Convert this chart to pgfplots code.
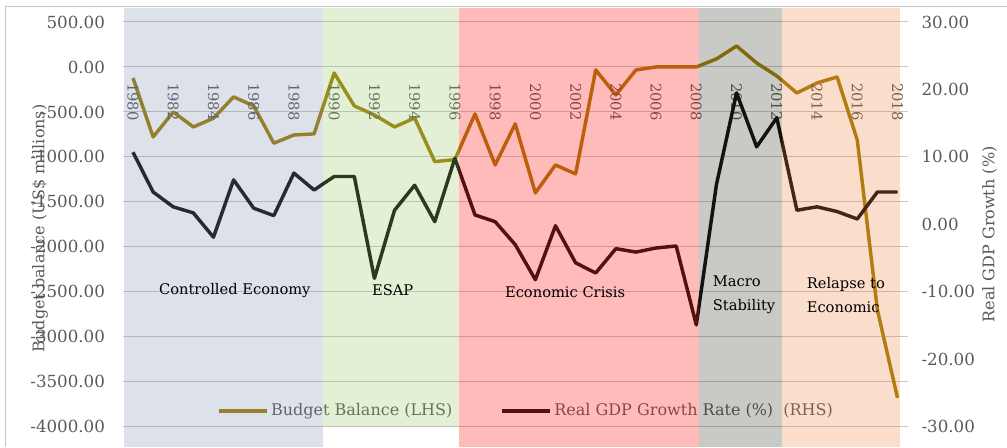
\documentclass[border=0pt]{standalone}
\usepackage{fontspec}
\setmainfont{DejaVu Serif}
\usepackage{pgfplots}
\usepackage{pgfplotstable}
\pgfplotsset{compat=1.18}

\definecolor{budget}{RGB}{160,126,8}
\definecolor{gdp}{RGB}{12,12,12}
\definecolor{txt}{RGB}{89,89,89}
\definecolor{gridc}{RGB}{200,200,200}
\definecolor{ovblue}{RGB}{119,135,171}
\definecolor{ovgreen}{RGB}{143,195,87}
\definecolor{ovpink}{RGB}{255,25,25}
\definecolor{ovgrey}{RGB}{35,47,23}
\definecolor{ovpeach}{RGB}{239,119,47}

\pgfplotstableread{
year budget gdp
1980 -122 10.7
1981 -778 4.8
1982 -500 2.6
1983 -667 1.7
1984 -570 -1.9
1985 -333 6.6
1986 -433 2.4
1987 -847 1.3
1988 -756 7.6
1989 -744 5.1
1990 -67 7.1
1991 -433 7.1
1992 -533 -8.0
1993 -667 2.1
1994 -567 5.8
1995 -1052 0.4
1996 -1030 9.8
1997 -522 1.4
1998 -1089 0.4
1999 -633 -3.0
2000 -1400 -8.2
2001 -1089 -0.2
2002 -1189 -5.7
2003 -33 -7.2
2004 -311 -3.6
2005 -33 -4.1
2006 0 -3.5
2007 0 -3.2
2008 0 -14.9
2009 89 5.9
2010 233 19.5
2011 44 11.5
2012 -100 15.8
2013 -289 2.1
2014 -178 2.6
2015 -111 1.9
2016 -811 0.8
2017 -2700 4.8
2018 -3678 4.8
}\data

\pgfplotsset{base/.style={scale only axis, width=588.75pt, height=303.75pt,
  at={(0,0)}, anchor=south west, xmin=1979.5, xmax=2018.5, clip=false,
  axis line style={draw=none}, major tick length=0pt, xtick=\empty},
  numfmt/.style={/pgf/number format/.cd, fixed, fixed zerofill, precision=2,
  1000 sep={}, assume math mode=true}}

\begin{document}
\begin{tikzpicture}
\begin{axis}[base, ymin=-4000, ymax=500, ytick={-4000,-3500,...,500},
  ymajorgrids, grid style={gridc, line width=0.75pt},
  yticklabel style={font=\fontsize{12.5}{15}\selectfont, text=txt, xshift=-10pt, numfmt},
  ylabel={Budget balance (US\$ millions)},
  ylabel style={at={(axis description cs:-0.1057,0.49)}, anchor=center,
    font=\fontsize{12}{14}\selectfont, text=txt}]
\addplot[budget, line width=2.6pt, line join=round] table[x=year, y=budget] {\data};
\pgfplotsinvokeforeach{1980,1982,...,2018}{
  \node[rotate=-90, anchor=west, inner sep=0pt, text=txt,
    font=\fontsize{11}{13}\selectfont] at (axis cs:#1,-178) {#1};
}
\end{axis}

\begin{axis}[base, ymin=-30, ymax=30, ytick={-30,-20,...,30},
  axis y line*=right, axis x line=none,
  yticklabel style={font=\fontsize{12.5}{15}\selectfont, text=txt, anchor=west, xshift=7pt, numfmt},
  ylabel={Real GDP Growth (\%)},
  ylabel style={at={(axis description cs:1.1045,0.475)}, anchor=center,
    font=\fontsize{12}{14}\selectfont, text=txt},
  legend style={at={(0.5140,0.0395)}, anchor=center, draw=none, fill=none,
    legend columns=2, font=\fontsize{12}{14}\selectfont, text=txt,
    /tikz/every even column/.append style={column sep=34pt}},
  legend image code/.code={\draw[#1] (0pt,0pt) -- (36pt,0pt);}]
\addlegendimage{budget, line width=2.6pt}
\addlegendentry{Budget Balance (LHS)}
\addplot[gdp, line width=2.6pt, line join=round] table[x=year, y=gdp] {\data};
\addlegendentry{Real GDP Growth Rate (\%)\ \ (RHS)}
\end{axis}

\begin{axis}[base, ymin=-4000, ymax=500, hide axis]
\fill[ovblue, fill opacity=0.25] (axis cs:1979.55,661) rectangle (axis cs:1989.44,-4230);
\fill[ovgreen, fill opacity=0.25] (axis cs:1989.44,661) rectangle (axis cs:1996.19,-4000);
\fill[ovpink, fill opacity=0.3] (axis cs:1996.19,661) rectangle (axis cs:2008.11,-4230);
\fill[ovgrey, fill opacity=0.25] (axis cs:2008.11,661) rectangle (axis cs:2012.24,-4230);
\fill[ovpeach, fill opacity=0.25] (axis cs:2012.24,661) rectangle (axis cs:2018.1,-4230);
\begin{scope}[every node/.style={font=\fontsize{11}{18}\selectfont, text=black, inner sep=0pt}]
\node at (axis cs:1985.06,-2490) {Controlled Economy};
\node at (axis cs:1992.91,-2480) {ESAP};
\node at (axis cs:2001.48,-2500) {Economic Crisis};
\node[anchor=west, align=left] at (axis cs:2008.81,-2533) {Macro\\Stability};
\node[anchor=west, align=left] at (axis cs:2013.48,-2533) {Relapse to\\Economic};
\end{scope}
\end{axis}

\draw[gray!45, line width=0.75pt] (-87.75pt,-15pt) -- (-87.75pt,315pt) -- (663pt,315pt);
\path[use as bounding box] (-92.25pt,-15pt) rectangle (663pt,320.25pt);
\end{tikzpicture}
\end{document}
